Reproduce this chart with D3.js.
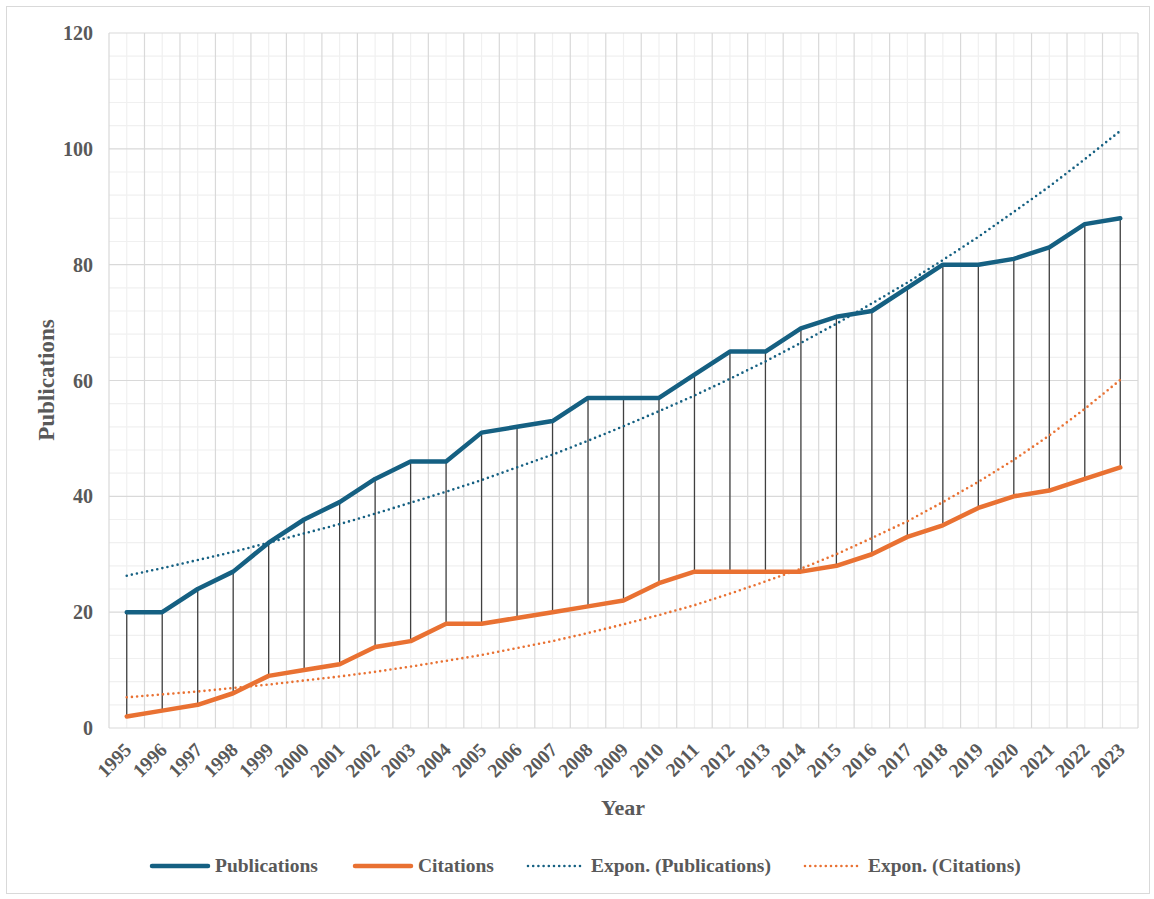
<!DOCTYPE html>
<html><head><meta charset="utf-8">
<script src="https://cdn.jsdelivr.net/npm/d3@7"></script>
<style>body{margin:0;background:#fff}svg{display:block}text{font-family:"Liberation Serif","Times New Roman",serif;font-weight:bold;fill:#595959}</style>
</head><body><svg id="c" width="1154" height="899"></svg>
<script>
const years = ["1995","1996","1997","1998","1999","2000","2001","2002","2003","2004","2005","2006","2007","2008","2009","2010","2011","2012","2013","2014","2015","2016","2017","2018","2019","2020","2021","2022","2023"];
const publications = [20,20,24,27,32,36,39,43,46,46,51,52,53,57,57,57,61,65,65,69,71,72,76,80,80,81,83,87,88];
const citations = [2,3,4,6,9,10,11,14,15,18,18,19,20,21,22,25,27,27,27,27,28,30,33,35,38,40,41,43,45];
const trendPublications = [26.3,27.6,29.0,30.4,32.0,33.6,35.2,37.0,38.9,40.8,42.8,45.0,47.2,49.6,52.1,54.7,57.4,60.3,63.3,66.5,69.8,73.3,76.9,80.8,84.8,89.1,93.5,98.2,103.1];
const trendCitations = [5.3,5.8,6.3,6.9,7.5,8.2,8.9,9.7,10.6,11.6,12.6,13.8,15.0,16.4,17.9,19.5,21.2,23.2,25.3,27.5,30.0,32.8,35.7,39.0,42.5,46.3,50.5,55.1,60.1];
const yTicks = [0,20,40,60,80,100,120];
const legendLabels = ["Publications","Citations","Expon. (Publications)","Expon. (Citations)"];

const BLUE="#156082", ORANGE="#E97132";
const svg=d3.select("#c");
svg.append("rect").attr("x",6.5).attr("y",6.5).attr("width",1143).attr("height",887).attr("fill","#fff").attr("stroke","#d9d9d9");

const L=109,R=1138,T=33,B=728;
const x=d3.scaleBand().domain(years).range([L,R]).padding(0);
const y=d3.scaleLinear().domain([0,120]).range([B,T]);
const cx=d=>x(d)+x.bandwidth()/2;

const g=svg.append("g");
g.selectAll(".hmin").data(d3.range(0,121,4).filter(v=>v%20)).join("line")
 .attr("x1",L).attr("x2",R).attr("y1",d=>y(d)).attr("y2",d=>y(d)).attr("stroke","#f0f0f0").attr("stroke-width",1.2);
g.selectAll(".vmin").data(years).join("line")
 .attr("x1",cx).attr("x2",cx).attr("y1",T).attr("y2",B).attr("stroke","#f0f0f0").attr("stroke-width",1.2);
g.selectAll(".hmaj").data(yTicks).join("line")
 .attr("x1",L).attr("x2",R).attr("y1",d=>y(d)).attr("y2",d=>y(d)).attr("stroke","#d9d9d9").attr("stroke-width",1.2);
g.selectAll(".vmaj").data(years.map(d=>x(d)).concat([R])).join("line")
 .attr("x1",d=>d).attr("x2",d=>d).attr("y1",T).attr("y2",B).attr("stroke","#d9d9d9").attr("stroke-width",1.2);

svg.append("g").selectAll("text").data(yTicks).join("text")
 .attr("x",93).attr("y",d=>y(d)+7).attr("text-anchor","end").attr("font-size",20).text(d=>d);
svg.append("g").selectAll("text").data(years).join("text")
 .attr("transform",d=>`translate(${cx(d)+6},${751}) rotate(-45)`).attr("text-anchor","end").attr("font-size",19.5).text(d=>d);

svg.append("text").attr("x",623).attr("y",815).attr("text-anchor","middle").attr("font-size",22).text("Year");
svg.append("text").attr("transform","translate(54,380) rotate(-90)").attr("text-anchor","middle").attr("font-size",23).text("Publications");

svg.append("g").selectAll("line").data(years).join("line")
 .attr("x1",cx).attr("x2",cx).attr("y1",(d,i)=>y(publications[i])).attr("y2",(d,i)=>y(citations[i]))
 .attr("stroke","#404040").attr("stroke-width",1.3);

const line=arr=>d3.line().x((d,i)=>cx(years[i])).y(d=>y(d))(arr);
svg.append("path").attr("d",line(trendPublications)).attr("fill","none").attr("stroke",BLUE).attr("stroke-width",2.6).attr("stroke-linecap","round").attr("stroke-dasharray","0 5.2");
svg.append("path").attr("d",line(trendCitations)).attr("fill","none").attr("stroke",ORANGE).attr("stroke-width",2.6).attr("stroke-linecap","round").attr("stroke-dasharray","0 5.2");
svg.append("path").attr("d",line(citations)).attr("fill","none").attr("stroke",ORANGE).attr("stroke-width",4.5).attr("stroke-linejoin","round").attr("stroke-linecap","round");
svg.append("path").attr("d",line(publications)).attr("fill","none").attr("stroke",BLUE).attr("stroke-width",4.5).attr("stroke-linejoin","round").attr("stroke-linecap","round");

const lx=[152,355,528,805], ly=866;
const lg=svg.append("g");
legendLabels.forEach((t,i)=>{
  const col=i%2===0?BLUE:ORANGE;
  const ln=lg.append("line").attr("x1",lx[i]).attr("x2",lx[i]+56).attr("y1",ly).attr("y2",ly).attr("stroke",col).attr("stroke-linecap","round");
  if(i<2) ln.attr("stroke-width",4.5); else ln.attr("stroke-width",2.6).attr("stroke-dasharray","0 5.2");
  lg.append("text").attr("x",lx[i]+63).attr("y",ly+6).attr("font-size",19.5).text(t);
});
</script></body></html>
